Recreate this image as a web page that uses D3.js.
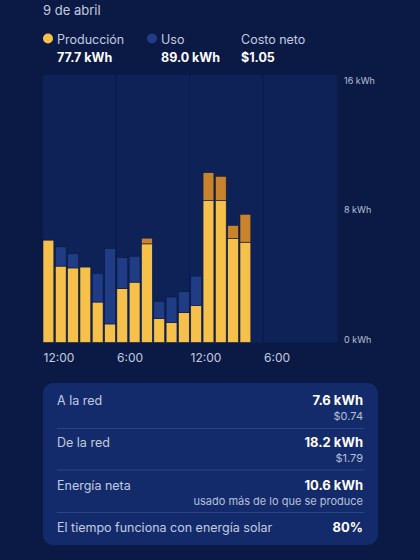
<!DOCTYPE html>
<html>
<head>
<meta charset="utf-8">
<script src="https://cdn.jsdelivr.net/npm/d3@7"></script>
<style>
  html, body { margin: 0; padding: 0; background: #0b1a45; }
  svg { display: block; font-family: Inter, "Noto Sans", sans-serif; }
</style>
</head>
<body>
<svg id="chart"></svg>
<script>
// hourly values (kWh)
const hours = d3.range(17);
const production = [6.12, 4.57, 4.46, 4.51, 2.42, 1.11, 3.23, 3.61, 6.24, 1.43, 1.20, 1.79, 2.22, 10.16, 9.94, 7.00, 7.67];
const usage      = [6.12, 5.72, 5.31, 4.51, 4.13, 5.63, 5.08, 5.16, 5.90, 2.45, 2.72, 3.04, 3.97, 8.49, 8.49, 6.22, 6.00];
const xTicks = [0, 6, 12, 18];
const xTickLabels = ["12:00", "6:00", "12:00", "6:00"];
const yTicks = [0, 8, 16];

const legend = [
  { label: "Producción", value: "77.7 kWh", color: "#f6c14a" },
  { label: "Uso", value: "89.0 kWh", color: "#1f3c84" },
  { label: "Costo neto", value: "$1.05", color: null }
];

const statLabels = ["A la red", "De la red", "Energía neta", "El tiempo funciona con energía solar"];
const statValues = ["7.6 kWh", "18.2 kWh", "10.6 kWh", "80%"];
const statNotes  = ["$0.74", "$1.79", "usado más de lo que se produce", ""];

const width = 420, height = 560;
const plot = { left: 43, right: 337, top: 75, bottom: 342.5 };

const svg = d3.select("#chart")
  .attr("width", width)
  .attr("height", height);

svg.append("rect")
  .attr("width", width).attr("height", height)
  .attr("fill", "#0b1a45");

// date
svg.append("text")
  .attr("x", 43).attr("y", 15)
  .attr("fill", "#c3cbe0")
  .style("font-size", "13px")
  .text("9 de abril");

// legend
const legendX = [43, 147, 241];
const lg = svg.selectAll(".legend")
  .data(legend)
  .enter()
  .append("g")
    .attr("transform", (d, i) => `translate(${legendX[i]}, 0)`);

lg.filter(d => d.color)
  .append("circle")
    .attr("cx", 5).attr("cy", 38.5).attr("r", 5)
    .attr("fill", d => d.color);

lg.append("text")
  .attr("x", d => d.color ? 14 : 0).attr("y", 43.5)
  .attr("fill", "#c3cbe0")
  .style("font-size", "12.5px")
  .text(d => d.label);

lg.append("text")
  .attr("x", d => d.color ? 14 : 0).attr("y", 62)
  .attr("fill", "#ffffff")
  .style("font-size", "12.5px")
  .style("font-weight", "bold")
  .text(d => d.value);

// scales
const xScale = d3.scaleLinear()
  .domain([0, 24])
  .range([plot.left, plot.right]);

const band = d3.scaleBand()
  .domain(d3.range(24))
  .range([plot.left, plot.right])
  .paddingInner(0.12)
  .paddingOuter(0);

const yScale = d3.scaleLinear()
  .domain([0, 16])
  .range([plot.bottom, plot.top]);

// plot background
svg.append("rect")
  .attr("x", plot.left).attr("y", plot.top)
  .attr("width", plot.right - plot.left)
  .attr("height", plot.bottom - plot.top)
  .attr("fill", "#0e2258");

// vertical dividers every 6 hours
svg.append("g")
  .selectAll("line")
  .data([6, 12, 18])
  .enter()
  .append("line")
    .attr("x1", d => xScale(d) - 0.5).attr("x2", d => xScale(d) - 0.5)
    .attr("y1", plot.top).attr("y2", plot.bottom)
    .attr("stroke", "#0b1c4c")
    .attr("stroke-width", 1.2);

// stacked segments: solar used, grid import, solar export
const rows = hours.map(i => ({
  i,
  solar: Math.min(production[i], usage[i]),
  grid: Math.max(0, usage[i] - production[i]),
  export: Math.max(0, production[i] - usage[i])
}));

const stack = d3.stack().keys(["solar", "grid", "export"])(rows);
const colors = { solar: "#f6c14a", grid: "#1f3c84", export: "#c8832c" };

svg.append("g")
  .selectAll("g")
  .data(stack)
  .enter()
  .append("g")
    .attr("fill", d => colors[d.key])
  .selectAll("rect")
  .data(d => d.filter(s => s[1] - s[0] > 0))
  .enter()
  .append("rect")
    .attr("x", d => band(d.data.i))
    .attr("width", band.bandwidth())
    .attr("y", d => yScale(d[1]))
    .attr("height", d => yScale(d[0]) - yScale(d[1]))
    .attr("stroke", "#0b1a45")
    .attr("stroke-width", 0.6);

// x axis
const xAxis = d3.axisBottom(xScale)
  .tickValues(xTicks)
  .tickFormat((d, i) => xTickLabels[i])
  .tickSize(0);

const gx = svg.append("g")
  .attr("transform", `translate(0, ${plot.bottom})`)
  .call(xAxis);
gx.select(".domain").remove();
gx.selectAll("text")
  .attr("y", 11)
  .attr("text-anchor", "start")
  .attr("fill", "#c3cbe0")
  .style("font-size", "12px")
  .style("font-family", "Inter, 'Noto Sans', sans-serif");

// y axis on the right
const yAxis = d3.axisRight(yScale)
  .tickValues(yTicks)
  .tickFormat(d => d + " kWh")
  .tickSize(0);

const gy = svg.append("g")
  .attr("transform", `translate(${plot.right + 7}, 0)`)
  .call(yAxis);
gy.select(".domain").remove();
gy.selectAll("text")
  .attr("x", 0)
  .attr("dy", d => d === 16 ? "0.95em" : d === 0 ? "-0.05em" : "0.45em")
  .attr("fill", "#b7c0d8")
  .style("font-size", "9px")
  .style("font-family", "Inter, 'Noto Sans', sans-serif");

// stats card
const card = { x: 43, y: 383, w: 335, h: 162 };
svg.append("rect")
  .attr("x", card.x).attr("y", card.y)
  .attr("width", card.w).attr("height", card.h)
  .attr("rx", 10)
  .attr("fill", "#142b6b");

const rowTop = [383, 428.5, 470, 512.5];
const rowY = d3.scaleOrdinal().domain(d3.range(4)).range([405, 447, 490, 532]);

svg.append("g")
  .selectAll("line")
  .data(rowTop.slice(1))
  .enter()
  .append("line")
    .attr("x1", 57).attr("x2", 364)
    .attr("y1", d => d).attr("y2", d => d)
    .attr("stroke", "#2c4587")
    .attr("stroke-width", 1);

const sr = svg.append("g")
  .selectAll("g")
  .data(statLabels)
  .enter()
  .append("g");

sr.append("text")
  .attr("x", 57).attr("y", (d, i) => rowY(i))
  .attr("fill", "#c3cbe0")
  .style("font-size", "12.5px")
  .text(d => d);

sr.append("text")
  .attr("x", 363).attr("y", (d, i) => rowY(i))
  .attr("text-anchor", "end")
  .attr("fill", "#ffffff")
  .style("font-size", "13px")
  .style("font-weight", "bold")
  .text((d, i) => statValues[i]);

sr.append("text")
  .attr("x", 363).attr("y", (d, i) => rowY(i) + 14.5)
  .attr("text-anchor", "end")
  .attr("fill", "#b7c0d8")
  .style("font-size", "11px")
  .text((d, i) => statNotes[i]);
</script>
</body>
</html>
